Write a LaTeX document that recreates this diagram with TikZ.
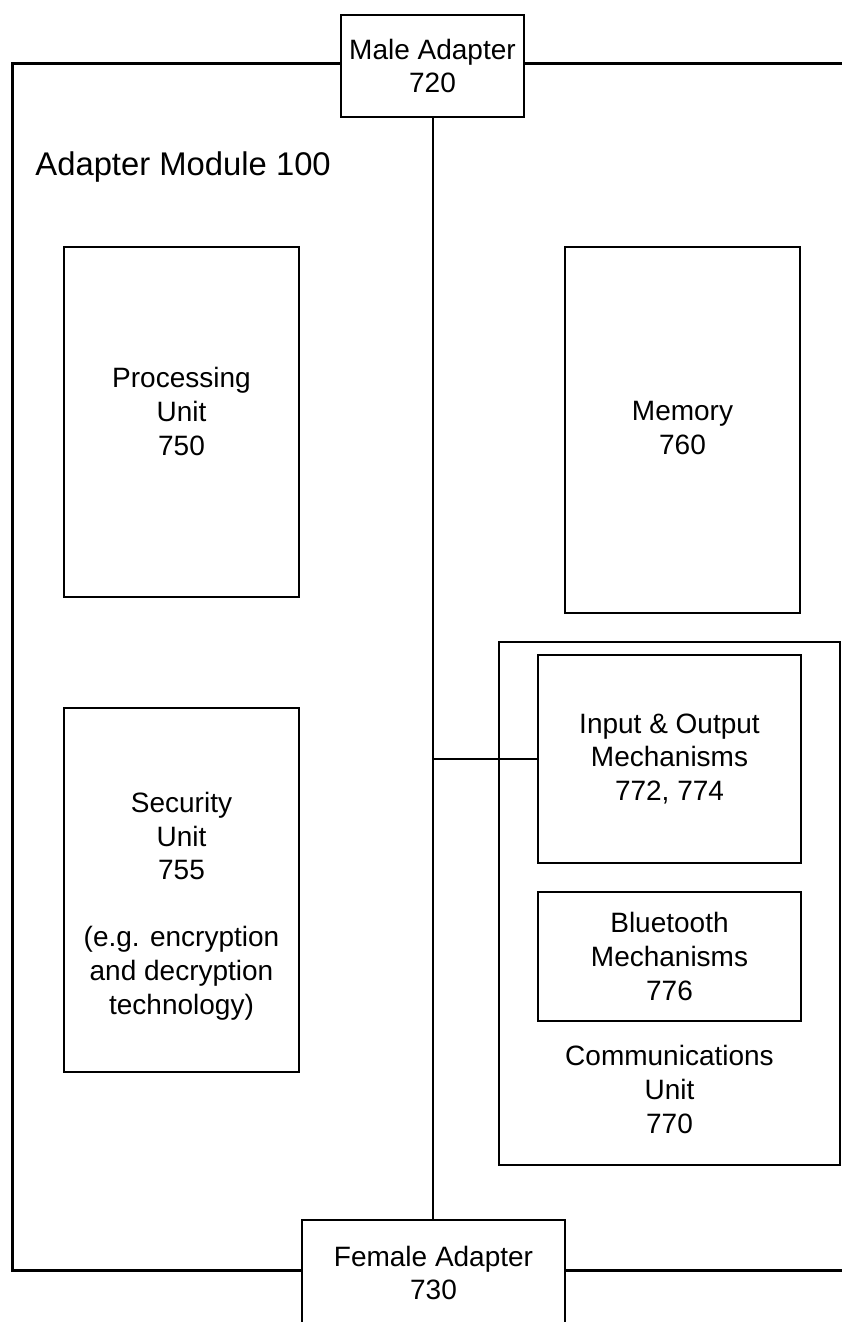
\documentclass[tikz,border=0pt]{standalone}
\usepackage{fontspec}
\setmainfont{Liberation Sans}
\usepackage{tikz}
\usetikzlibrary{positioning,calc}

\begin{document}
\begin{tikzpicture}[x=0.5pt,y=-0.5pt,
  font=\fontsize{14}{16.8}\selectfont,
  unit/.style={draw,line width=1pt,align=center,inner sep=2pt,fill=white},
  txt/.style={align=center,inner sep=0pt},
  wire/.style={line width=1pt},
  frame/.style={line width=1.5pt}]
\useasboundingbox (0,0) rectangle (842,1322);
% adapters
\node[unit,minimum width=91.5pt,minimum height=51pt] (male) at (432.5,66) {Male Adapter\\720};
\node[unit,minimum width=131.5pt,minimum height=53pt] (female) at (433.5,1273) {Female Adapter\\730};
% module frame
\coordinate (tl) at (12,64);
\coordinate (bl) at (12,1270);
\coordinate (tr) at (842,64);
\coordinate (br) at (842,1270);
\draw[frame] (male.west |- tl) -- (tl) -- (bl) -- (female.west |- bl);
\draw[frame] (male.east |- tl) -- (tr);
\draw[frame] (female.east |- bl) -- (br);
\node[anchor=west,inner sep=0pt,font=\fontsize{16.4}{19.7}\selectfont] (title) at (35,167) {Adapter Module 100};
% units
\node[unit,minimum width=117.5pt,minimum height=175pt] (proc) at (181.5,422) {};
\node[txt] (proctxt) at ($(proc.center)+(0,-10.5)$) {Processing\\Unit\\750};
\node[unit,minimum width=117.5pt,minimum height=183pt] (mem) at (682.5,430) {};
\node[txt] (memtxt) at ($(mem.center)+(0,-2)$) {Memory\\760};
\node[unit,minimum width=117.5pt,minimum height=182pt] (sec) at (181.5,890) {};
\node[txt] (sectxt) at ($(sec.center)+(0,16)$)
 {Security\\Unit\\755\\[16.8pt](e.g. encryption\\and decryption\\technology)};
\node[unit,minimum width=170.5pt,minimum height=261.5pt] (comm) at (669.5,903.5) {};
\node[unit,minimum width=131.5pt,minimum height=104pt] (io) at (669.5,759) {Input \& Output\\Mechanisms\\772, 774};
\node[unit,minimum width=131.5pt,minimum height=64.5pt] (bt) at (669.5,956.5) {Bluetooth\\Mechanisms\\776};
\node[txt] (commtxt) at (669.5,1089.5) {Communications\\Unit\\770};
% bus
\draw[wire] (male.south) -- (male.south |- female.north);
\draw[wire] (io.west) -- (io.west -| male.south);
\end{tikzpicture}
\end{document}
